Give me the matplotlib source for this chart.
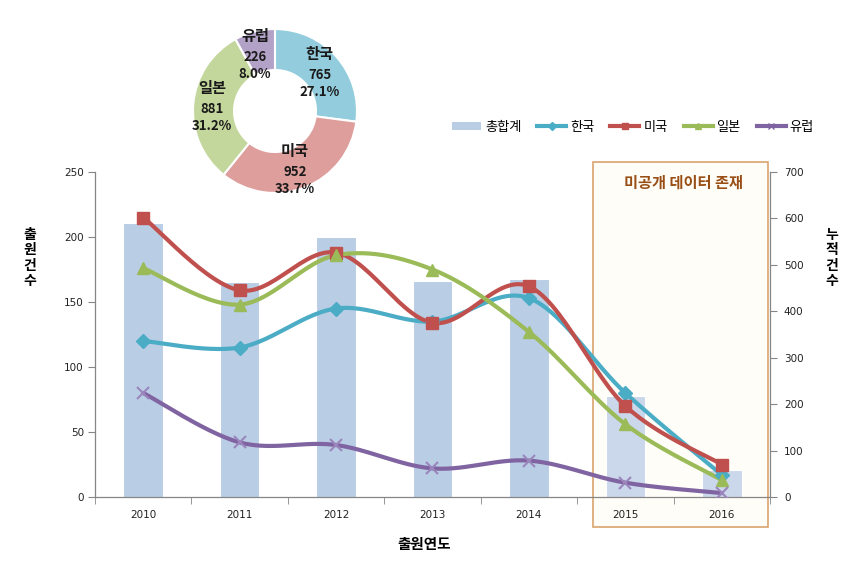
import numpy as np
import matplotlib
matplotlib.use("Agg")
import matplotlib.pyplot as plt
from matplotlib.patches import Rectangle, Patch
from matplotlib.lines import Line2D
from matplotlib.transforms import offset_copy

plt.rcParams['font.family'] = ['Noto Sans CJK KR', 'DejaVu Sans']

# ---------------- data ----------------
years = ['2010', '2011', '2012', '2013', '2014', '2015', '2016']
korea = [120, 115, 145, 135, 153, 80, 17]
usa = [215, 159, 188, 134, 162, 70, 25]
japan = [176, 148, 186, 175, 127, 56, 13]
europe = [80, 42, 40, 22, 28, 11, 3]
totals = [591, 464, 559, 466, 470, 217, 58]

pie_labels = ['한국', '미국', '일본', '유럽']
pie_values = [765, 952, 881, 226]
pie_pcts = ['27.1%', '33.7%', '31.2%', '8.0%']

left_ticks = [0, 50, 100, 150, 200, 250]
right_ticks = [0, 100, 200, 300, 400, 500, 600, 700]

# ---------------- style ----------------
c_korea = '#4BACC6'
c_usa = '#C0504D'
c_japan = '#9BBB59'
c_europe = '#8064A2'
c_bar = '#B9CDE5'
pie_colors = ['#93CDDD', '#DE9E9C', '#C3D69B', '#B3A2C7']
spine_c = '#868686'

W, H = 856, 568
fig = plt.figure(figsize=(W / 100, H / 100), dpi=100)

def fx(px):
    return px / W

def fy(py):
    return 1 - py / H

# box for unreleased data
rect = Rectangle((fx(593), fy(527)), fx(768) - fx(593), fy(162) - fy(527),
                 transform=fig.transFigure, facecolor='#FFFDF8',
                 edgecolor='#D9A46E', linewidth=1.2, zorder=-1)
fig.patches.append(rect)
fig.text(fx(683), fy(183), '미공개 데이터 존재', ha='center', va='center',
         fontsize=11, fontweight='bold', style='italic', color='#984E14')

# main axes
ax = fig.add_axes([fx(95), fy(497), fx(770) - fx(95), fy(172) - fy(497)])
ax2 = ax.twinx()
ax.set_zorder(ax2.get_zorder() + 1)
ax.patch.set_visible(False)
ax2.patch.set_visible(False)

x = np.arange(len(years))
bar_colors = [c_bar] * 5 + ['#CBD7EA'] * 2
ax2.bar(x, totals, width=0.41, color=bar_colors, edgecolor='white', linewidth=0.8)

def smooth(xs, ys, n=30):
    pts = np.column_stack([xs, ys]).astype(float)
    out = []
    m = len(pts)
    for i in range(m - 1):
        p0 = pts[i - 1] if i > 0 else pts[i]
        p1 = pts[i]
        p2 = pts[i + 1]
        p3 = pts[i + 2] if i + 2 < m else pts[i + 1]
        c1 = p1 + (p2 - p0) / 6.0
        c2 = p2 - (p3 - p1) / 6.0
        t = np.linspace(0, 1, n)[:, None]
        seg = ((1 - t) ** 3) * p1 + 3 * ((1 - t) ** 2) * t * c1 + 3 * (1 - t) * t ** 2 * c2 + t ** 3 * p2
        out.append(seg if i == 0 else seg[1:])
    s = np.vstack(out)
    return s[:, 0], s[:, 1]

series = [
    (korea, c_korea, 'D', 7, '한국'),
    (usa, c_usa, 's', 8, '미국'),
    (japan, c_japan, '^', 8.5, '일본'),
    (europe, c_europe, 'x', 8, '유럽'),
]
for ys, c, mk, ms, lab in series:
    sx, sy = smooth(x, ys)
    ax.plot(sx, sy, color=c, lw=3, solid_capstyle='round', zorder=3)
    if mk == 'x':
        ax.plot(x, ys, linestyle='none', marker='x', ms=ms, mew=1.5,
                color='#9A86BC', zorder=4)
    else:
        ax.plot(x, ys, linestyle='none', marker=mk, ms=ms, color=c,
                mec=c, zorder=4)

ax.set_xlim(-0.5, len(years) - 0.5)
ax.set_ylim(0, 250)
ax2.set_ylim(0, 700)
ax.set_yticks(left_ticks)
ax2.set_yticks(right_ticks)

ax.set_xticks(x)
ax.set_xticklabels(years, fontsize=7.5, family='DejaVu Sans', color='#222222')
ax.set_xticks(np.arange(-0.5, len(years)), minor=True)
ax.tick_params(axis='x', which='major', length=0, pad=9)
ax.tick_params(axis='x', which='minor', length=5, color=spine_c, direction='out')
ax.tick_params(axis='y', length=5, color=spine_c, labelsize=7.5, labelcolor='#222222', pad=3)
ax2.tick_params(axis='y', length=5, color=spine_c, labelsize=7.5, labelcolor='#222222', pad=5)
for lab in ax.get_yticklabels() + ax2.get_yticklabels():
    lab.set_family('DejaVu Sans')
ax2.tick_params(axis='x', length=0)

for a in (ax, ax2):
    a.spines['top'].set_visible(False)
    for s in ('left', 'right', 'bottom'):
        a.spines[s].set_color(spine_c)
        a.spines[s].set_linewidth(0.9)
ax.spines['right'].set_visible(False)
ax2.spines['left'].set_visible(False)
ax2.spines['bottom'].set_visible(False)

# axis titles
fig.text(fx(30), fy(258), '출\n원\n건\n수', ha='center', va='center',
         fontsize=10, fontweight='bold', linespacing=1.1)
fig.text(fx(832), fy(258), '누\n적\n건\n수', ha='center', va='center',
         fontsize=10, fontweight='bold', linespacing=1.1)
fig.text(fx(424), fy(544), '출원연도', ha='center', va='center',
         fontsize=10.5, fontweight='bold')

# legend
handles = [Patch(facecolor=c_bar, edgecolor='none', label='총합계')]
for ys, c, mk, ms, lab in series:
    handles.append(Line2D([], [], color=c, lw=3, marker=mk, ms=4, label=lab,
                          mew=1))
fig.legend(handles=handles, loc='center', bbox_to_anchor=(fx(633), fy(127)),
           ncol=5, frameon=False, fontsize=9.5, handlelength=2.2,
           handletextpad=0.3, columnspacing=1.2, handleheight=0.6)

# donut
R = 82
pax = fig.add_axes([fx(275 - R), fy(111 + R), fx(2 * R), 2 * R / H])
wedges, _ = pax.pie(pie_values, colors=pie_colors, startangle=90, counterclock=False,
                    radius=1.0, wedgeprops=dict(width=0.5, edgecolor='white', linewidth=1.5))
pax.set_xlim(-1, 1)
pax.set_ylim(-1, 1)
pax.set_aspect('equal')
pax.axis('off')
label_r = [0.70, 0.78, 0.77, 0.70]
label_da = [-2.5, -3.5, 3.0, 6.0]
for w, lab, v, p, r, da in zip(wedges, pie_labels, pie_values, pie_pcts, label_r, label_da):
    ang = np.deg2rad((w.theta1 + w.theta2) / 2 + da)
    px, py = r * np.cos(ang), r * np.sin(ang)
    pax.text(px, py, str(v), ha='center', va='center', fontsize=9.5,
             fontweight='bold', color='#1a1a1a', clip_on=False)
    pax.text(px, py, lab, ha='center', va='center', fontsize=11,
             fontweight='bold', color='#1a1a1a', clip_on=False,
             transform=offset_copy(pax.transData, fig=fig, y=21, units='dots'))
    pax.text(px, py, p, ha='center', va='center', fontsize=9.5,
             fontweight='bold', color='#1a1a1a', clip_on=False,
             transform=offset_copy(pax.transData, fig=fig, y=-17, units='dots'))

fig.savefig('out.png', dpi=100)
